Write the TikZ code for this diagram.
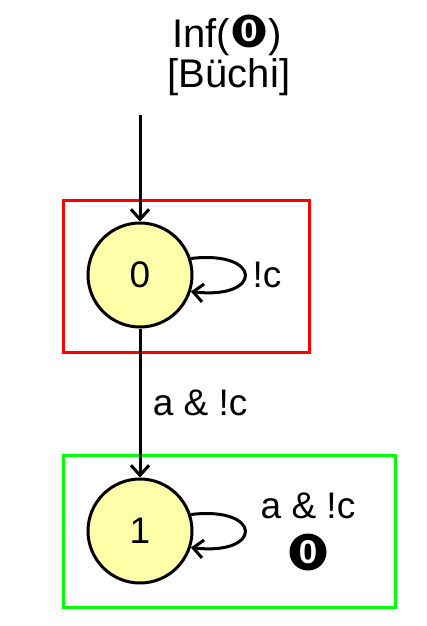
\documentclass[tikz,border=0pt]{standalone}
\usepackage{fontspec}
\setmainfont{Liberation Sans}
\usetikzlibrary{arrows.meta,positioning}
\definecolor{statefill}{HTML}{FFFFAA}

\begin{document}
\begin{tikzpicture}[x=1pt,y=-1pt, font=\fontsize{37}{40}\selectfont,
  state/.style={circle,draw,line width=3pt,fill=statefill,minimum size=104pt,inner sep=0pt},
  trans/.style={line width=3pt,-{Straight Barb[length=10pt,width=18pt,line width=3pt]}},
  accdisc/.style 2 args={circle,fill=black,text=white,inner sep=0pt,minimum size=#1pt,
    font=\rmfamily\bfseries\fontsize{#2}{#1}\selectfont}]
  \useasboundingbox (0,0) rectangle (426,626);
  % acceptance condition
  \begin{scope}[font=\fontsize{40}{40}\selectfont]
    \node[accdisc={33}{31}] (acc) at (249,31) {0};
    \node[anchor=base east,inner sep=0pt] (inf) at (230,48) {Inf(};
    \node[anchor=base west,inner sep=0pt] (infr) at (268,48) {)};
    \node[anchor=base,inner sep=0pt] (buchi) at (229,88) {{[}Büchi{]}};
  \end{scope}

  % clusters
  \draw[red,line width=3pt] (63,200) rectangle (309,352);
  \draw[green,line width=3pt] (63,455) rectangle (395,607);

  % states
  \node[state] (s0) at (140,275) {0};
  \node[state] (s1) at (140,531) {1};
  \coordinate (init) at (140,115);

  \draw[trans] (init) -- (s0);
  \draw[trans] (s0) -- node[right=8pt] (l01) {a \& !c} (s1);
  \draw[trans] (s0.18) .. controls (263,250) and (263,300) .. (s0.-18);
  \node[anchor=west] (l00) at (249,275) {!c};
  \draw[trans] (s1.18) .. controls (263,506) and (263,556) .. (s1.-18);
  \node[anchor=base,inner sep=0pt] (l11) at (308,518) {a \& !c};
  \node[accdisc={37}{33}] (l11acc) at (308,552) {0};
\end{tikzpicture}
\end{document}
